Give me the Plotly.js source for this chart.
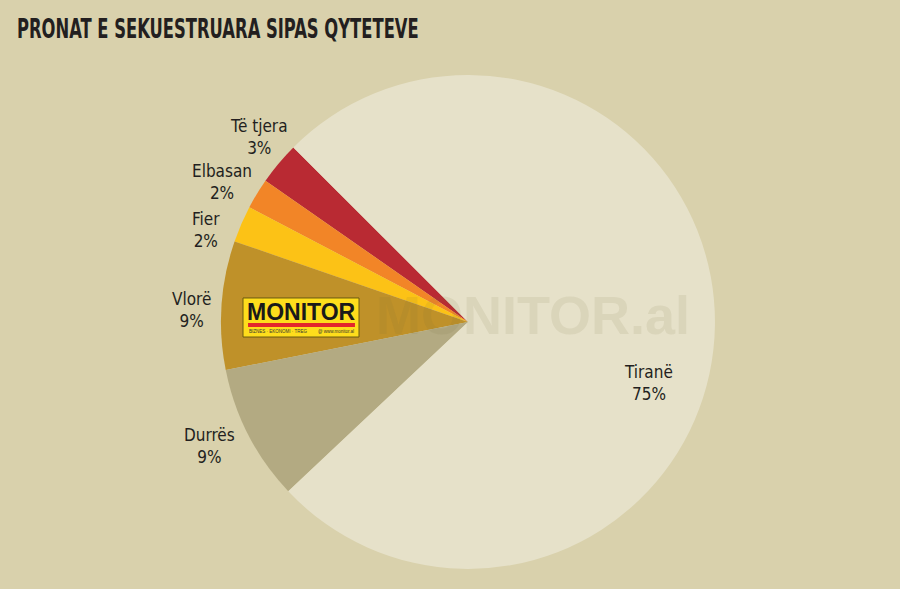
<!DOCTYPE html>
<html>
<head>
<meta charset="utf-8">
<script src="https://cdn.plot.ly/plotly-3.0.1.min.js"></script>
<style>
  html, body { margin: 0; padding: 0; background: #d9d1ac; }
  #graph { width: 900px; height: 589px; }
  /* squeeze the title to look like the heavy condensed headline face */
  #graph .gtitle { transform: scaleX(0.7); }
</style>
</head>
<body>
<div id="graph"></div>
<script>
// slices go counterclockwise from the upper-left edge of Tiranë
var cities = ['Të tjera', 'Elbasan', 'Fier', 'Vlorë', 'Durrës', 'Tiranë'];
var shares = [2.8, 2.0, 2.4, 8.4, 8.9, 75.4];
var pctText = ['3%', '2%', '2%', '9%', '9%', '75%'];
var sliceColors = ['#b92a33', '#f28527', '#fcc216', '#bf9129', '#b3aa82', '#e6e1c9'];

// where each label sits on the page (paper fraction)
var labelPos = [
  [0.288, 0.767], [0.247, 0.691], [0.229, 0.610],
  [0.213, 0.474], [0.233, 0.243], [0.720, 0.350]
];

var ink = '#231f20';
var narrow = '"DejaVu Sans Condensed", "Liberation Sans Narrow", sans-serif';
var arial = '"Liberation Sans", Arial, sans-serif';

var annotations = cities.map(function (c, i) {
  return {
    xref: 'paper', yref: 'paper',
    x: labelPos[i][0], y: labelPos[i][1],
    xanchor: 'center', yanchor: 'middle',
    text: c + '<br>' + pctText[i],
    showarrow: false,
    font: {family: narrow, size: 17, color: ink}
  };
});

// faint watermark behind the logo
annotations.push({
  xref: 'paper', yref: 'paper', x: 0.592, y: 0.465,
  xanchor: 'center', yanchor: 'middle', showarrow: false,
  text: '<b>MONITOR.al</b>',
  font: {family: arial, size: 54, color: 'rgba(120,110,60,0.1)'}
});

// logo box text
annotations.push({
  xref: 'paper', yref: 'paper', x: 0.3345, y: 0.4705,
  xanchor: 'center', yanchor: 'middle', showarrow: false,
  text: '<b>MONITOR</b>',
  font: {family: arial, size: 23, color: '#1a1a1a'}
});
annotations.push({
  xref: 'paper', yref: 'paper', x: 0.274, y: 0.4365,
  xanchor: 'left', yanchor: 'middle', showarrow: false,
  text: 'BIZNES · EKONOMI · TREG',
  font: {family: arial, size: 4.5, color: '#333'}
});
annotations.push({
  xref: 'paper', yref: 'paper', x: 0.395, y: 0.4365,
  xanchor: 'right', yanchor: 'middle', showarrow: false,
  text: '@ www.monitor.al',
  font: {family: arial, size: 4.5, color: '#333'}
});

var data = [{
  type: 'pie',
  labels: cities,
  values: shares,
  sort: false,
  direction: 'counterclockwise',
  rotation: -55.1,
  textinfo: 'none',
  hoverinfo: 'label+percent',
  marker: {colors: sliceColors, line: {width: 0}},
  domain: {x: [0.2456, 0.7944], y: [0.034, 0.8727]}
}];

var layout = {
  width: 900,
  height: 589,
  margin: {l: 0, r: 0, t: 0, b: 0},
  paper_bgcolor: '#d9d1ac',
  plot_bgcolor: '#d9d1ac',
  showlegend: false,
  title: {
    text: '<b>PRONAT E SEKUESTRUARA SIPAS QYTETEVE</b>',
    x: 0.027, xanchor: 'left',
    y: 0.951, yanchor: 'middle',
    font: {family: narrow, size: 26, color: ink}
  },
  shapes: [
    {type: 'rect', xref: 'paper', yref: 'paper', x0: 0.27, x1: 0.3989, y0: 0.4278, y1: 0.4941,
      fillcolor: '#fedd1c', line: {color: '#6b5a10', width: 1}},
    {type: 'rect', xref: 'paper', yref: 'paper', x0: 0.2756, x1: 0.3944, y0: 0.4448, y1: 0.4516,
      fillcolor: '#e3262c', line: {width: 0}}
  ],
  annotations: annotations
};

Plotly.newPlot('graph', data, layout, {displayModeBar: false, staticPlot: true});
</script>
</body>
</html>
